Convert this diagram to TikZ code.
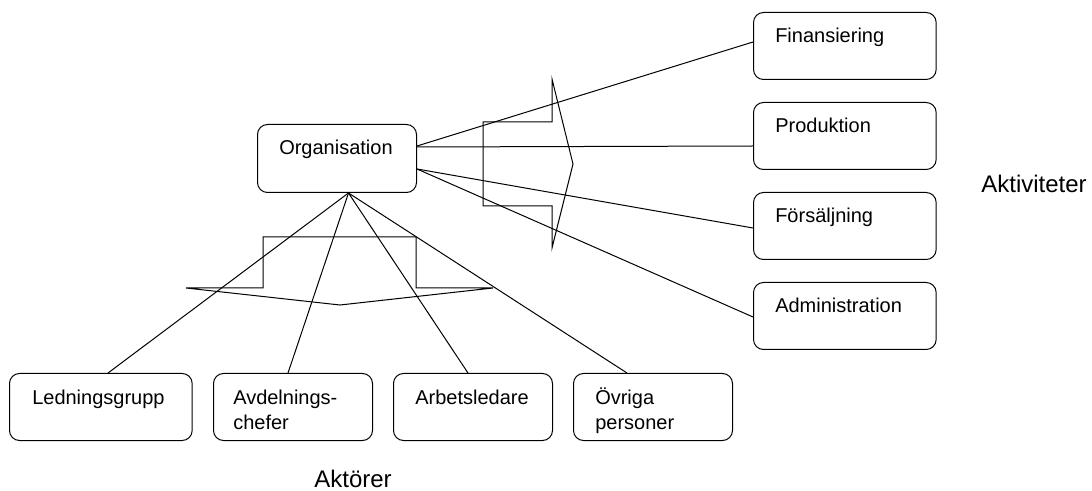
\documentclass[tikz,border=0pt]{standalone}
\usepackage{fontspec}
\setmainfont{Liberation Sans}
\usetikzlibrary{calc}
\begin{document}
\begin{tikzpicture}[x=0.75pt,y=-0.75pt,
  box/.style={draw, rounded corners=7.5pt, line width=0.75pt, inner sep=0pt, anchor=north west, minimum height=50.25pt, minimum width=119.25pt},
  widebox/.style={box, minimum width=137pt},
  boxtext/.style={anchor=base west, inner sep=0pt, font=\fontsize{15}{18.75}\selectfont},
  biglabel/.style={inner sep=0pt, font=\fontsize{18}{22}\selectfont},
  conn/.style={line width=0.75pt},
  bigarrow/.style={line width=0.75pt, line join=miter}]
\useasboundingbox (0,0) rectangle (1092,491);

% boxes
\node[box, minimum height=51pt] (org) at (257,124) {};
\node[widebox] (fin) at (753,12) {};
\node[widebox] (prod) at (753,102) {};
\node[widebox] (fors) at (753,192) {};
\node[widebox] (adm) at (753,282) {};
\node[widebox] (led) at (9,373) {};
\node[box] (avd) at (213,373) {};
\node[box] (arb) at (393,373) {};
\node[box] (ovr) at (573,373) {};

% texts
\node[boxtext] (torg) at ($(org.north west)+(22,31)$) {Organisation};
\node[boxtext] (tfin) at ($(fin.north west)+(22,31)$) {Finansiering};
\node[boxtext] (tprod) at ($(prod.north west)+(22,31)$) {Produktion};
\node[boxtext] (tfors) at ($(fors.north west)+(22,31)$) {Försäljning};
\node[boxtext] (tadm) at ($(adm.north west)+(22,31)$) {Administration};
\node[boxtext] (tled) at ($(led.north west)+(23,31)$) {Ledningsgrupp};
\node[boxtext] (tavd) at ($(avd.north west)+(20,31)$) {\begin{tabular}[t]{@{}l@{}}Avdelnings-\\chefer\end{tabular}};
\node[boxtext] (tarb) at ($(arb.north west)+(22,31)$) {Arbetsledare};
\node[boxtext] (tovr) at ($(ovr.north west)+(22,31)$) {\begin{tabular}[t]{@{}l@{}}Övriga\\personer\end{tabular}};

\node[biglabel] (aktiv) at (1034,184) {Aktiviteter};
\node[biglabel] (aktor) at (353,479) {Aktörer};

% big hollow arrows
\draw[bigarrow] (483,122) -- (552,122) -- (552,79) -- (573,164) -- (552,248) -- (552,206) -- (483,206) -- cycle;
\draw[bigarrow] (263,237) -- (416,237) -- (416,288) -- (493,288) -- (340,305) -- (186,288) -- (263,288) -- cycle;

% connector anchor points
\coordinate (oR1) at ($(org.north east)+(0,22)$);
\coordinate (oR2) at ($(org.north east)+(0,23)$);
\coordinate (oR3) at ($(org.north east)+(0,45)$);
\coordinate (oB) at ($(org.south)+(11.5,0)$);
\coordinate (finL) at ($(fin.north west)+(0,30)$);
\coordinate (prodL) at ($(prod.north west)+(0,44)$);
\coordinate (forsL) at ($(fors.north west)+(0,36)$);
\coordinate (admL) at ($(adm.north west)+(0,35)$);
\coordinate (ledT) at ($(led.north west)+(99,0)$);
\coordinate (avdT) at ($(avd.north west)+(75,0)$);
\coordinate (arbT) at ($(arb.north west)+(75,0)$);
\coordinate (ovrT) at ($(ovr.north west)+(54,0)$);

\draw[conn] (oR1) -- (finL);
\draw[conn] (oR2) -- (prodL);
\draw[conn] (oR3) -- (forsL);
\draw[conn] (oR3) -- (admL);
\draw[conn] (oB) -- (ledT);
\draw[conn] (oB) -- (avdT);
\draw[conn] (oB) -- (arbT);
\draw[conn] (oB) -- (ovrT);
\end{tikzpicture}
\end{document}
